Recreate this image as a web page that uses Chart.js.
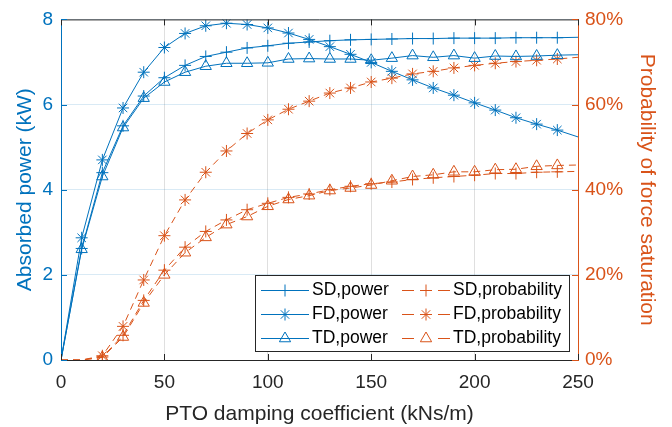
<!DOCTYPE html>
<html>
<head>
<meta charset="utf-8">
<script src="https://cdn.jsdelivr.net/npm/chart.js"></script>
<style>
  body { margin: 0; background: #fff; }
  #wrap { width: 672px; height: 427px; }
</style>
</head>
<body>
<div id="wrap"><canvas id="powerChart" width="672" height="427"></canvas></div>
<script>
// PTO damping coefficient (kNs/m)
const damping = [0, 10, 20, 30, 40, 50, 60, 70, 80, 90, 100, 110, 120, 130, 140, 150, 160, 170, 180, 190, 200, 210, 220, 230, 240, 250];

// absorbed power (kW)
const sdPower = [0, 2.62, 4.40, 5.50, 6.20, 6.63, 6.92, 7.13, 7.23, 7.33, 7.38, 7.44, 7.47, 7.50, 7.52, 7.53, 7.54, 7.55, 7.55, 7.56, 7.56, 7.56, 7.57, 7.57, 7.57, 7.58];
const fdPower = [0, 2.87, 4.70, 5.92, 6.76, 7.34, 7.67, 7.85, 7.91, 7.88, 7.80, 7.68, 7.53, 7.36, 7.18, 6.99, 6.78, 6.58, 6.39, 6.22, 6.04, 5.87, 5.69, 5.54, 5.40, 5.24];
const tdPower = [0, 2.60, 4.31, 5.46, 6.15, 6.53, 6.76, 6.90, 6.97, 6.97, 6.98, 7.07, 7.08, 7.07, 7.07, 7.04, 7.09, 7.15, 7.11, 7.15, 7.09, 7.14, 7.13, 7.14, 7.16, 7.17];

// probability of force saturation (%)
const sdProb = [0, 0, 0.7, 5.8, 14.0, 21.1, 26.5, 30.2, 32.9, 35.3, 36.8, 38.2, 39.0, 40.0, 40.8, 41.4, 41.8, 42.4, 42.8, 43.1, 43.4, 43.8, 43.8, 44.1, 44.2, 44.3];
const fdProb = [0, 0, 1.0, 7.9, 18.8, 29.2, 37.6, 44.1, 49.1, 53.2, 56.4, 58.9, 60.8, 62.7, 63.9, 65.3, 66.2, 67.2, 67.8, 68.6, 69.2, 69.7, 70.1, 70.4, 70.7, 71.1];
const tdProb = [0, 0, 0.6, 5.4, 13.4, 20.0, 25.2, 28.8, 31.8, 33.7, 36.1, 37.7, 38.6, 39.8, 40.4, 41.1, 42.1, 43.1, 43.5, 44.2, 44.2, 44.7, 44.8, 45.5, 45.7, 45.8];

const xTicks = [0, 50, 100, 150, 200, 250];

const BLUE = '#0072BD';
const ORANGE = '#D95319';
const DARK = '#262626';
const FONT = "'Liberation Sans', Arial, Helvetica, sans-serif";

function pts(ys) {
  return damping.map((x, i) => ({ x: x, y: ys[i] }));
}

// markers skip the end points (and the zero stretch of the probability curves)
function markerRadius(size, skipStart) {
  return damping.map((x, i) => (i < skipStart || i === damping.length - 1) ? 0 : size);
}

function series(label, ys, color, style, axis, dashed) {
  const size = style === 'triangle' ? 6.5 : 6;
  return {
    label: label,
    data: pts(ys),
    yAxisID: axis,
    borderColor: color,
    borderWidth: 1,
    borderDash: dashed ? [7, 5] : [],
    backgroundColor: 'rgba(0,0,0,0)',
    pointStyle: style,
    pointRadius: markerRadius(size, dashed ? 2 : 1),
    pointBorderColor: color,
    pointBackgroundColor: 'rgba(0,0,0,0)',
    pointBorderWidth: 1,
    tension: 0,
    fill: false
  };
}

const datasets = [
  series('SD,power', sdPower, BLUE, 'cross', 'y', false),
  series('FD,power', fdPower, BLUE, 'star', 'y', false),
  series('TD,power', tdPower, BLUE, 'triangle', 'y', false),
  series('SD,probability', sdProb, ORANGE, 'cross', 'y2', true),
  series('FD,probability', fdProb, ORANGE, 'star', 'y2', true),
  series('TD,probability', tdProb, ORANGE, 'triangle', 'y2', true)
];

function drawMarker(ctx, style, r, x, y) {
  ctx.beginPath();
  if (style === 'cross' || style === 'star') {
    ctx.moveTo(x - r, y); ctx.lineTo(x + r, y);
    ctx.moveTo(x, y - r); ctx.lineTo(x, y + r);
    if (style === 'star') {
      const d = r * Math.SQRT1_2;
      ctx.moveTo(x - d, y - d); ctx.lineTo(x + d, y + d);
      ctx.moveTo(x - d, y + d); ctx.lineTo(x + d, y - d);
    }
  } else if (style === 'triangle') {
    const side = r * 3 / Math.sqrt(3);
    const h = side * Math.sqrt(3) / 2;
    ctx.moveTo(x - side / 2, y + h / 3);
    ctx.lineTo(x + side / 2, y + h / 3);
    ctx.lineTo(x, y - 2 * h / 3);
    ctx.closePath();
  }
  ctx.stroke();
}

// frame, inward tick marks and the two-column legend
const axesDecor = {
  id: 'axesDecor',
  afterDraw(chart) {
    const ctx = chart.ctx;
    const a = chart.chartArea;
    const xs = chart.scales.x, yl = chart.scales.y, yr = chart.scales.y2;
    const tl = 6;
    ctx.save();
    ctx.lineWidth = 1;
    ctx.setLineDash([]);

    ctx.strokeStyle = DARK;
    ctx.beginPath();
    ctx.moveTo(a.left, a.top + 0.5); ctx.lineTo(a.right, a.top + 0.5);
    xTicks.forEach(v => {
      const px = Math.round(xs.getPixelForValue(v)) + 0.5;
      ctx.moveTo(px, a.bottom); ctx.lineTo(px, a.bottom - tl);
      ctx.moveTo(px, a.top); ctx.lineTo(px, a.top + tl);
    });
    ctx.stroke();

    ctx.strokeStyle = BLUE;
    ctx.beginPath();
    yl.ticks.forEach(t => {
      const py = Math.round(yl.getPixelForValue(t.value)) + 0.5;
      ctx.moveTo(a.left, py); ctx.lineTo(a.left + tl, py);
    });
    ctx.stroke();

    ctx.strokeStyle = ORANGE;
    ctx.beginPath();
    yr.ticks.forEach(t => {
      const py = Math.round(yr.getPixelForValue(t.value)) + 0.5;
      ctx.moveTo(a.right, py); ctx.lineTo(a.right - tl, py);
    });
    ctx.stroke();

    // legend
    const box = { x: 255.5, y: 275.5, w: 314, h: 76 };
    ctx.fillStyle = '#fff';
    ctx.fillRect(box.x, box.y, box.w, box.h);
    ctx.strokeStyle = DARK;
    ctx.strokeRect(box.x, box.y, box.w, box.h);

    const cols = [261, 402];
    const rows = [290, 314, 338];
    ctx.font = '17.5px ' + FONT;
    ctx.textBaseline = 'middle';
    ctx.textAlign = 'left';
    chart.data.datasets.forEach((ds, i) => {
      const cx = cols[Math.floor(i / 3)];
      const cy = rows[i % 3] + 0.5;
      ctx.strokeStyle = ds.borderColor;
      ctx.lineWidth = 1;
      ctx.setLineDash(ds.borderDash.length ? [12, 24] : []);
      ctx.beginPath();
      ctx.moveTo(cx, cy); ctx.lineTo(cx + 48, cy);
      ctx.stroke();
      ctx.setLineDash([]);
      drawMarker(ctx, ds.pointStyle, ds.pointStyle === 'triangle' ? 6.5 : 6, cx + 24, cy);
      ctx.fillStyle = '#000';
      ctx.fillText(ds.label, cx + 51, cy);
    });
    ctx.restore();
  }
};

new Chart(document.getElementById('powerChart').getContext('2d'), {
  type: 'line',
  data: { datasets: datasets },
  options: {
    responsive: false,
    animation: false,
    layout: { padding: { top: 17, left: 0, right: 0, bottom: 0 } },
    plugins: { legend: { display: false }, tooltip: { enabled: false } },
    scales: {
      x: {
        type: 'linear',
        position: 'bottom',
        min: 0,
        max: 250,
        afterBuildTicks: s => { s.ticks = xTicks.map(v => ({ value: v })); },
        afterFit: s => { s.height = 67; },
        ticks: { color: DARK, font: { size: 19, family: FONT }, padding: 11, maxRotation: 0, autoSkip: false },
        grid: { color: 'rgba(38,38,38,0.15)', drawTicks: false },
        border: { color: DARK },
        title: { display: true, text: 'PTO damping coefficient (kNs/m)', color: DARK, font: { size: 21, family: FONT }, padding: { top: 4, bottom: 0 } }
      },
      y: {
        position: 'left',
        min: 0,
        max: 8,
        afterFit: s => { s.width = 61; },
        ticks: { stepSize: 2, color: BLUE, font: { size: 19, family: FONT }, padding: 8 },
        grid: { color: 'rgba(0,114,189,0.15)', drawTicks: false },
        border: { color: BLUE },
        title: { display: true, text: 'Absorbed power (kW)', color: BLUE, font: { size: 21, family: FONT }, padding: { top: 13, bottom: 0 } }
      },
      y2: {
        position: 'right',
        min: 0,
        max: 80,
        afterFit: s => { s.width = 94; },
        ticks: { stepSize: 20, color: ORANGE, font: { size: 19, family: FONT }, padding: 7, callback: v => v + '%' },
        grid: { drawOnChartArea: false, drawTicks: false },
        border: { color: ORANGE },
        title: { display: true, text: 'Probability of force saturation', color: ORANGE, font: { size: 21, family: FONT }, padding: { top: 13, bottom: 0 } }
      }
    }
  },
  plugins: [axesDecor]
});
</script>
</body>
</html>
